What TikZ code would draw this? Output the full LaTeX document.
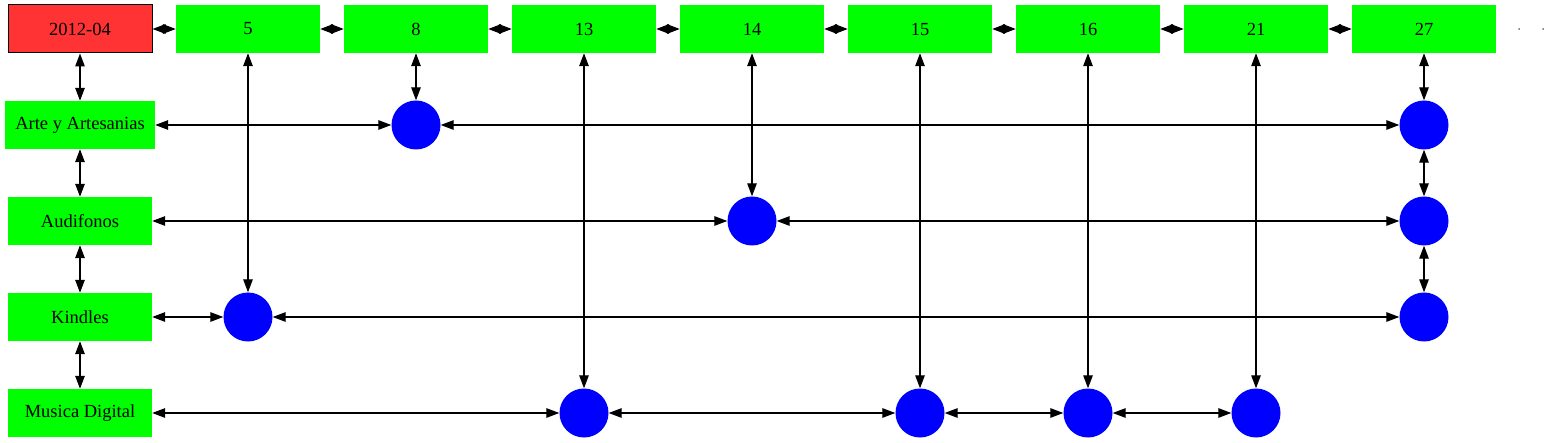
\documentclass[tikz,border=0pt]{standalone}
\usepackage{fontspec}
\setmainfont{Liberation Serif}
\usetikzlibrary{arrows.meta}
\definecolor{datered}{RGB}{255,51,51}
\begin{document}
\begin{tikzpicture}[x=1pt,y=-1pt,
  box/.style={rectangle, fill=green, minimum width=144pt, minimum height=48pt, inner sep=0pt, font=\fontsize{18.5}{20}\selectfont},
  datebox/.style={box, fill=datered, draw=black, line width=1pt},
  dot/.style={circle, fill=blue, minimum size=49pt, inner sep=0pt},
  tiny/.style={circle, fill=black!60, minimum size=2pt, inner sep=0pt},
  link/.style={{Triangle[length=13pt,width=9.5pt]}-{Triangle[length=13pt,width=9.5pt]}, line width=1.3pt, black}]
\useasboundingbox (0,0) rectangle (1549,443);
% top row
\node[datebox] (d) at (80,29) {2012-04};
\node[box] (t5) at (248,29) {5};
\node[box] (t8) at (416,29) {8};
\node[box] (t13) at (584,29) {13};
\node[box] (t14) at (752,29) {14};
\node[box] (t15) at (920,29) {15};
\node[box] (t16) at (1088,29) {16};
\node[box] (t21) at (1256,29) {21};
\node[box] (t27) at (1424,29) {27};
\node[tiny] (e1) at (1519,29) {};
\node[tiny] (e2) at (1543,29) {};
% categories
\node[box, minimum width=150pt] (r1) at (80,125) {Arte y Artesanias};
\node[box] (r2) at (80,221) {Audifonos};
\node[box] (r3) at (80,317) {Kindles};
\node[box] (r4) at (80,413) {Musica Digital};
% circles
\node[dot] (c1a) at (416,125) {};
\node[dot] (c1b) at (1424,125) {};
\node[dot] (c2a) at (752,221) {};
\node[dot] (c2b) at (1424,221) {};
\node[dot] (c3a) at (248,317) {};
\node[dot] (c3b) at (1424,317) {};
\node[dot] (c4a) at (584,413) {};
\node[dot] (c4b) at (920,413) {};
\node[dot] (c4c) at (1088,413) {};
\node[dot] (c4d) at (1256,413) {};
% top row links
\draw[link] (d) -- (t5);
\draw[link] (t5) -- (t8);
\draw[link] (t8) -- (t13);
\draw[link] (t13) -- (t14);
\draw[link] (t14) -- (t15);
\draw[link] (t15) -- (t16);
\draw[link] (t16) -- (t21);
\draw[link] (t21) -- (t27);
% left column
\draw[link] (d) -- (r1);
\draw[link] (r1) -- (r2);
\draw[link] (r2) -- (r3);
\draw[link] (r3) -- (r4);
% verticals
\draw[link] (t5) -- (c3a);
\draw[link] (t8) -- (c1a);
\draw[link] (t13) -- (c4a);
\draw[link] (t14) -- (c2a);
\draw[link] (t15) -- (c4b);
\draw[link] (t16) -- (c4c);
\draw[link] (t21) -- (c4d);
\draw[link] (t27) -- (c1b);
\draw[link] (c1b) -- (c2b);
\draw[link] (c2b) -- (c3b);
% horizontals
\draw[link] (r1) -- (c1a);
\draw[link] (c1a) -- (c1b);
\draw[link] (r2) -- (c2a);
\draw[link] (c2a) -- (c2b);
\draw[link] (r3) -- (c3a);
\draw[link] (c3a) -- (c3b);
\draw[link] (r4) -- (c4a);
\draw[link] (c4a) -- (c4b);
\draw[link] (c4b) -- (c4c);
\draw[link] (c4c) -- (c4d);
\end{tikzpicture}
\end{document}
